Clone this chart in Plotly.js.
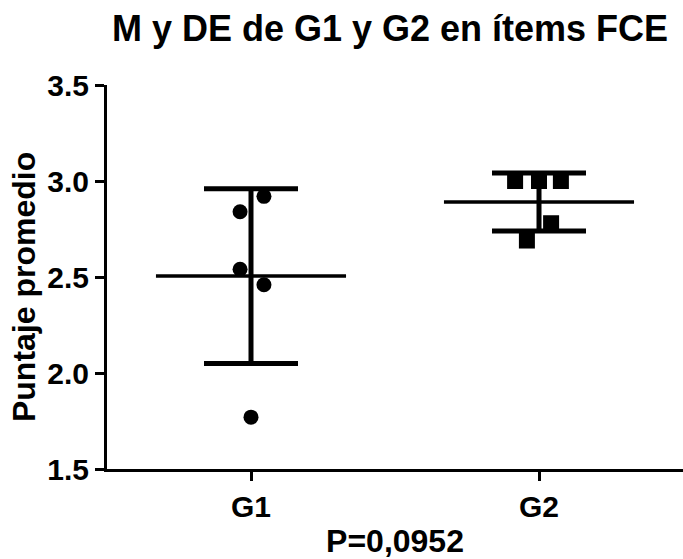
<!DOCTYPE html>
<html>
<head>
<meta charset="utf-8">
<script src="https://cdn.plot.ly/plotly-3.0.1.min.js"></script>
<style>html,body{margin:0;padding:0;background:#fff;}#chart{width:683px;height:559px;}</style>
</head>
<body>
<div id="chart"></div>
<script>
// Data
var groups = ['G1', 'G2'];
var g1Values = [2.92, 2.84, 2.54, 2.46, 1.77];
var g1Jitter = [0.045, -0.038, -0.038, 0.045, 0.0];
var g2Values = [3.00, 3.00, 3.00, 2.78, 2.69];
var g2Jitter = [-0.083, 0.0, 0.076, 0.042, -0.042];
var means = [2.505, 2.891];
var sds = [0.455, 0.151];
var yTicks = [1.5, 2.0, 2.5, 3.0, 3.5];
var yTickText = ['1.5', '2.0', '2.5', '3.0', '3.5'];
var yTitle = 'Puntaje promedio';

var FONT = 'Liberation Sans, Arial, Helvetica, sans-serif';
var meanHalf = 0.33;

var meanX = [], meanY = [];
for (var i = 0; i < groups.length; i++) {
  meanX.push(i - meanHalf, i + meanHalf, null);
  meanY.push(means[i], means[i], null);
}

var traces = [
  {
    x: meanX, y: meanY, mode: 'lines', type: 'scatter',
    line: {color: '#000', width: 3.5}, hoverinfo: 'skip', showlegend: false
  },
  {
    x: [0, 1], y: means, mode: 'markers', type: 'scatter',
    marker: {size: 1, color: 'rgba(0,0,0,0)'},
    error_y: {type: 'data', array: sds, visible: true, color: '#000', thickness: 5, width: 47},
    showlegend: false
  },
  {
    x: g1Values.map(function (v, k) { return 0 + g1Jitter[k]; }),
    y: g1Values, mode: 'markers', type: 'scatter',
    marker: {symbol: 'circle', size: 15, color: '#000'}, showlegend: false
  },
  {
    x: g2Values.map(function (v, k) { return 1 + g2Jitter[k]; }),
    y: g2Values, mode: 'markers', type: 'scatter',
    marker: {symbol: 'square', size: 16, color: '#000'}, showlegend: false
  }
];

var layout = {
  width: 683, height: 559,
  margin: {l: 107, r: 0, t: 85, b: 90},
  paper_bgcolor: '#fff', plot_bgcolor: '#fff',
  title: {
    text: 'M y DE de G1 y G2 en ítems FCE',
    font: {family: FONT, size: 36, color: '#000', weight: 'bold'},
    x: 0.571, xanchor: 'center', y: 0.95, yanchor: 'middle'
  },
  xaxis: {
    range: [-0.5, 1.5], tickvals: [0, 1], ticktext: groups,
    showgrid: false, zeroline: false, showline: true, linecolor: '#000', linewidth: 3,
    ticks: 'outside', ticklen: 9, tickwidth: 3, tickcolor: '#000',
    tickfont: {family: FONT, size: 30, color: '#000', weight: 'bold'},
    title: {text: 'P=0,0952', font: {family: FONT, size: 32, color: '#000', weight: 'bold'}, standoff: 10}
  },
  yaxis: {
    range: [1.5, 3.5], tickvals: yTicks, ticktext: yTickText,
    showgrid: false, zeroline: false, showline: true, linecolor: '#000', linewidth: 3,
    ticks: 'outside', ticklen: 9, tickwidth: 3, tickcolor: '#000',
    tickfont: {family: FONT, size: 30, color: '#000', weight: 'bold'}
  },
  annotations: [{
    text: yTitle, textangle: -90, showarrow: false,
    xref: 'paper', yref: 'paper', x: -0.144, y: 0.474,
    xanchor: 'center', yanchor: 'middle',
    font: {family: FONT, size: 32, color: '#000', weight: 'bold'}
  }]
};

Plotly.newPlot('chart', traces, layout, {displayModeBar: false, staticPlot: true});
</script>
</body>
</html>
